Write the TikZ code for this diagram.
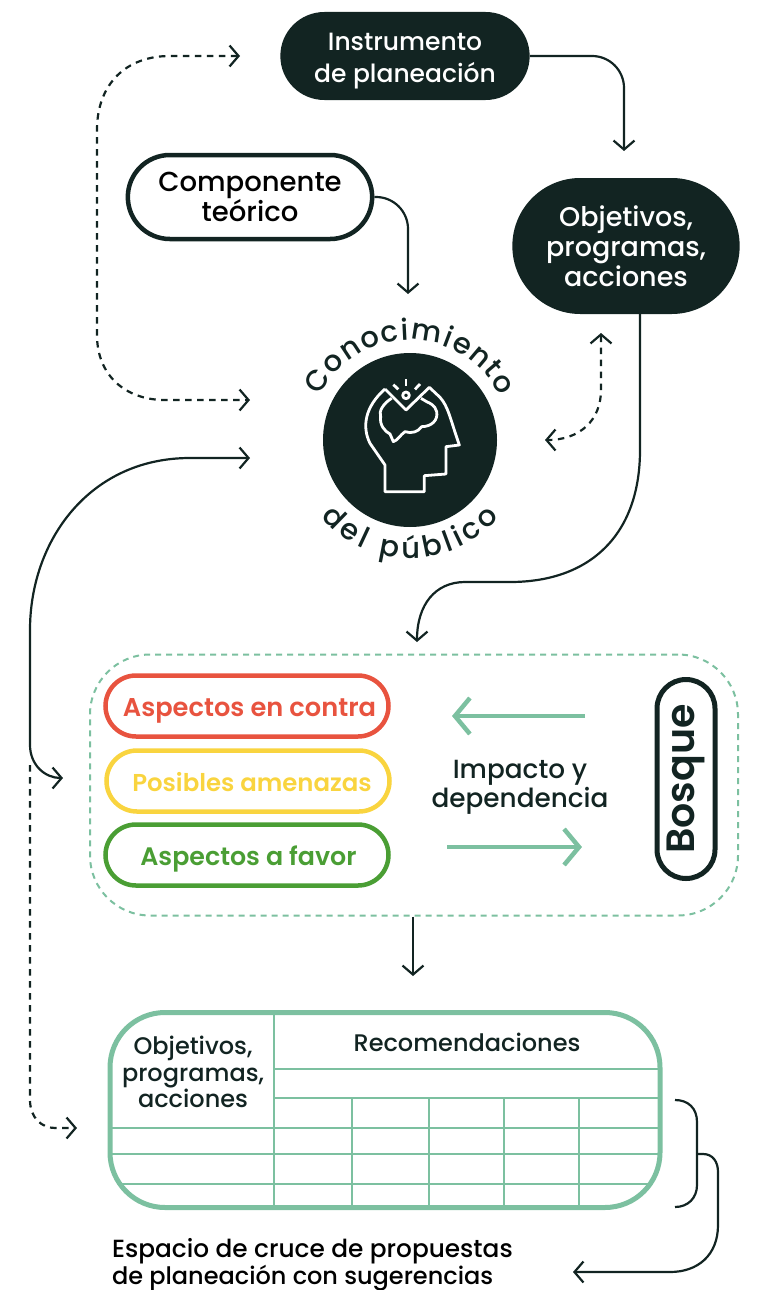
\documentclass[tikz,border=0pt]{standalone}
\usepackage{fontspec}
\setmainfont{Poppins}[UprightFont=* Medium,BoldFont=* SemiBold]
\usetikzlibrary{arrows.meta,shapes.misc,decorations.text}

\definecolor{oscuro}{HTML}{122422}
\definecolor{verde}{HTML}{7CC0A0}
\definecolor{rojo}{HTML}{E8533F}
\definecolor{amarillo}{HTML}{F9D43F}
\definecolor{pasto}{HTML}{4A9E34}

\tikzset{
	pill/.style={rounded rectangle,align=center,font=\fontsize{26}{30.5}\selectfont},
	solido/.style={pill,fill=oscuro,text=white},
	aspecto/.style={pill,draw=#1,text=#1,line width=4.5pt,minimum width=283,minimum height=61,inner sep=0pt,text height=20pt,text depth=0pt,font=\fontsize{25}{28}\selectfont\bfseries},
	conn/.style={draw=oscuro,line width=2.2pt,->,>={Straight Barb[length=9pt,width=21pt]}},
	punteada/.style={conn,dash pattern=on 6.5pt off 5.5pt},
	flecha/.style={draw=verde,line width=4.5pt,->,>={Straight Barb[length=15pt,width=36pt]}},
	rejilla/.style={draw=verde,line width=2.5pt},
	texto/.style={text=oscuro,align=center,font=\fontsize{24}{26.5}\selectfont},
	arco/.style={decorate,decoration={text along path,text={#1},text align={fit to path},text color=oscuro}}
}

\begin{document}
\begin{tikzpicture}[x=1pt,y=-1pt]
	\useasboundingbox (0,0) rectangle (756,1290);

	\node[solido,minimum width=256,minimum height=88,font=\fontsize{25}{31.5}\selectfont] (instrumento) at (405,56) {\rule{0pt}{28pt}Instrumento\\de planeación};
	\node[pill,draw=oscuro,line width=4.5pt,text=black,minimum width=251,minimum height=84,font=\fontsize{27.5}{30}\selectfont] (componente) at (250,197) {Componente\\teórico};
	\node[solido,minimum width=234,minimum height=136,font=\fontsize{27}{30}\selectfont] (objetivos) at (626,246) {Objetivos,\\programas,\\acciones};
	\node[circle,fill=oscuro,minimum size=174,inner sep=0pt] (publico) at (410,440) {};

	\path[arco={|\fontsize{29}{30}\selectfont|Conocimiento}] (publico.center) ++(-154:100) arc[start angle=-154,end angle=-26,radius=100];
	\path[arco={|\fontsize{29}{30}\selectfont|del público}] (publico.center) ++(139:118) arc[start angle=139,end angle=41,radius=118];

	% cabeza
	\begin{scope}[shift={(290,310)},scale=1/3,draw=white,line width=2.8pt,line join=round]
		\draw (285,237) -- (348,300) -- (418,232) -- (450,262) .. controls (475,290) and (480,325) .. (508,405) -- (468,410) -- (468,492) -- (403,497) -- (403,545) -- (285,545) -- (285,465) -- (240,400) .. controls (215,350) and (225,290) .. (285,237);
		\draw (305,265) .. controls (280,280) and (265,305) .. (272,320) .. controls (268,345) and (285,365) .. (300,372) -- (310,395) .. controls (325,390) and (330,375) .. (345,365) .. controls (365,372) and (385,365) .. (395,350) .. controls (425,350) and (445,330) .. (440,305) .. controls (435,285) and (420,280) .. (410,275) -- (393,265);
		\draw (348,256) circle (10);
		\draw (310,224) -- (325,238);
		\draw (348,208) -- (348,228);
		\draw (390,222) -- (375,238);
	\end{scope}

	\node[draw=verde,dash pattern=on 6pt off 5pt,line width=2pt,rounded corners=60,minimum width=648,minimum height=261,inner sep=0pt] (zona) at (414,785) {};
	\node[aspecto=rojo,font=\fontsize{25.7}{28}\selectfont\bfseries] (contra) at (247,706) {\hspace*{5pt}Aspectos en contra};
	\node[aspecto=amarillo,font=\fontsize{24.4}{28}\selectfont\bfseries] (amenazas) at (248,781) {\hspace*{8pt}Posibles amenazas};
	\node[aspecto=pasto,font=\fontsize{25.3}{28}\selectfont\bfseries] (favor) at (247,855) {\hspace*{3pt}Aspectos a favor};
	\node[pill,draw=oscuro,line width=5pt,text=oscuro,rotate=90,minimum width=199,minimum height=58,inner sep=0pt,font=\fontsize{39.5}{40}\selectfont\bfseries] (bosque) at (686,779) {Bosque};
	\node[texto,font=\fontsize{26.3}{29}\selectfont] (impacto) at (520,787) {Impacto y\\dependencia};

	\coordinate (impacto der) at (585,716);
	\coordinate (impacto izq) at (452,716);
	\coordinate (depende izq) at (447,847);
	\coordinate (depende der) at (582,847);
	\draw[flecha] (impacto der) -- (impacto izq);
	\draw[flecha] (depende izq) -- (depende der);

	% tabla
	\foreach \y in {1069,1098} \draw[rejilla] (274,\y) -- (660,\y);
	\foreach \y in {1128,1154} \draw[rejilla] (110,\y) -- (660,\y);
	\draw[rejilla] (118,1184) -- (650,1184);
	\draw[rejilla] (274,1013) -- (274,1208);
	\foreach \x in {352,429,504,579} \draw[rejilla] (\x,1098) -- (\x,1208);
	\node[draw=verde,line width=5pt,rounded corners=55,minimum width=550,minimum height=195,inner sep=0pt] (tabla) at (385,1110) {};
	\node[texto] (columna) at (193,1072) {Objetivos,\\programas,\\acciones};
	\node[texto] (recomendaciones) at (467,1042) {Recomendaciones};
	\node[anchor=west,align=left,text=black,font=\fontsize{24.8}{25.5}\selectfont] (espacio) at (108.5,1265) {Espacio de cruce de propuestas\\\fontsize{24}{25.5}\selectfont de planeación con sugerencias};

	\coordinate (a1) at (624,151);
	\coordinate (a2) at (408,294);
	\coordinate (a3) at (417,642);
	\coordinate (a4) at (413,976);
	\coordinate (b1) at (240,56);
	\coordinate (b2) at (250,400);
	\coordinate (b3) at (601,333);
	\coordinate (b4) at (545,440);
	\coordinate (b5) at (250,458);
	\coordinate (b6) at (63,778);
	\coordinate (b7) at (30,765);
	\coordinate (b8) at (77,1128);
	\coordinate (c1) at (675,1100);
	\coordinate (c2) at (675,1207);
	\coordinate (c3) at (697,1154);
	\coordinate (c4) at (573,1272);

	\draw[conn,rounded corners=32] (instrumento.east) -| (a1);
	\draw[conn,rounded corners=32] (componente.east) -| (a2);
	\draw[conn] (objetivos.south -| 640,0) -- (640,450) .. controls (640,535) and (590,582) .. (510,582) -- (465,582) .. controls (435,582) and (417,605) .. (a3);
	\draw[conn] (zona.south -| a4) -- (a4);
	\draw[punteada,<->] (b1) -- (170,56) .. controls (125,56) and (97,85) .. (97,130) -- (97,335) .. controls (97,375) and (125,400) .. (165,400) -- (b2);
	\draw[punteada,<->] (b3) -- (601,390) .. controls (601,420) and (580,440) .. (b4);
	\draw[conn,<->] (b5) -- (190,458) .. controls (90,458) and (30,540) .. (30,630) -- (30,745) .. controls (30,765) and (45,778) .. (b6);
	\draw[punteada] (b7) -- (30,1100) .. controls (30,1118) and (42,1128) .. (55,1128) -- (b8);
	\draw[draw=oscuro,line width=2.2pt] (c1) .. controls (688,1100) and (697,1108) .. (697,1122) -- (697,1185) .. controls (697,1198) and (688,1207) .. (c2);
	\draw[conn] (c3) -- (703,1154) .. controls (713,1154) and (718,1162) .. (718,1172) -- (718,1225) .. controls (718,1255) and (698,1272) .. (670,1272) -- (c4);
\end{tikzpicture}
\end{document}
